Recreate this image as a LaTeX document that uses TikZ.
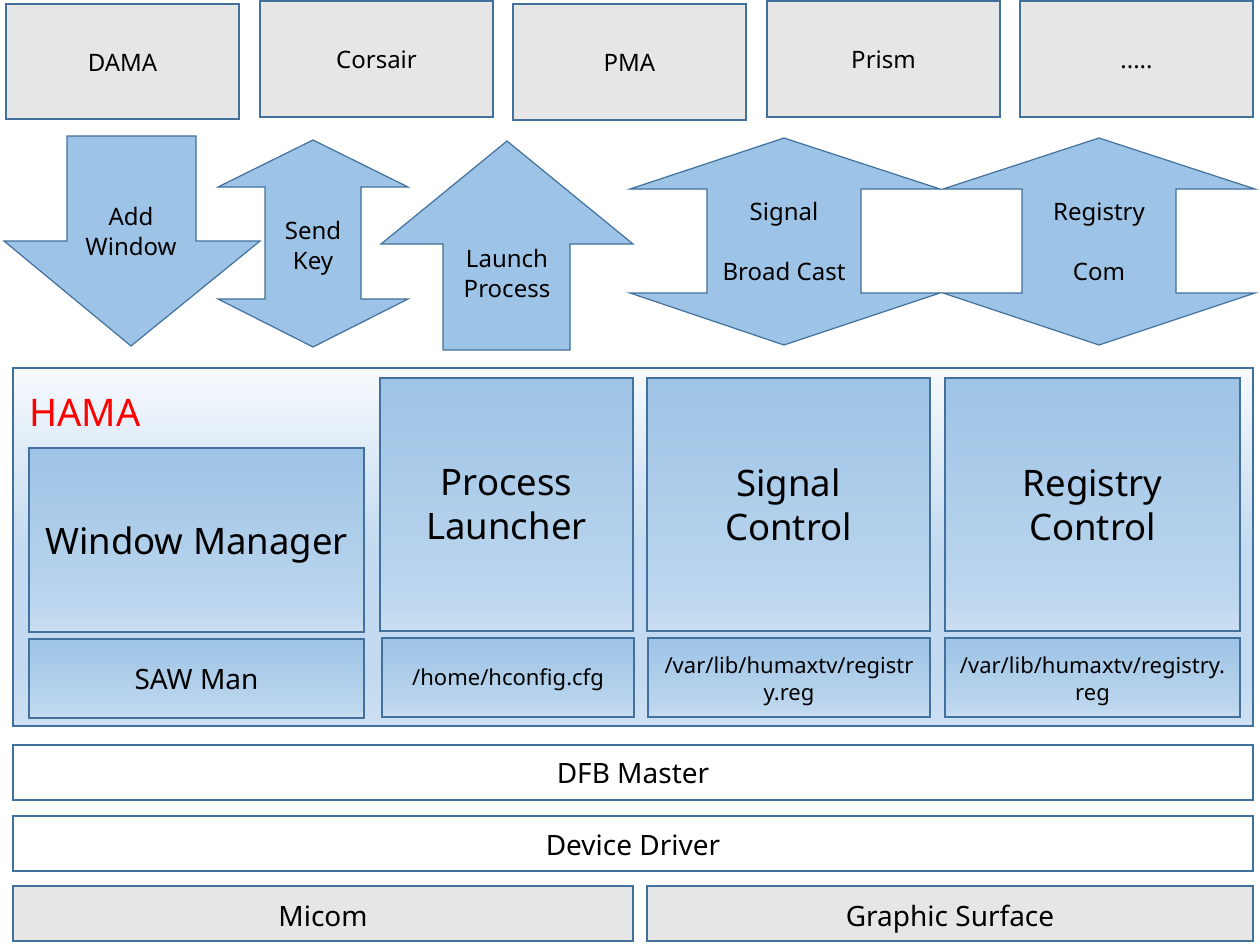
\documentclass[tikz,border=0pt]{standalone}
\usepackage{fontspec}
\setmainfont{Noto Sans}
\definecolor{bline}{HTML}{41719C}
\definecolor{afill}{HTML}{9DC3E6}
\definecolor{gfill}{HTML}{E7E6E6}
\definecolor{itop}{HTML}{9DC3E6}
\definecolor{imid}{HTML}{BDD7EE}
\definecolor{ibot}{HTML}{CCDFF2}
\definecolor{htop}{HTML}{F7FAFD}
\definecolor{hmid}{HTML}{C3DAF0}
\definecolor{hbot}{HTML}{CFE0F2}
\definecolor{hamared}{HTML}{FF0000}
\pgfdeclareverticalshading{innerg}{100bp}{color(0bp)=(ibot); color(25bp)=(ibot); color(31bp)=(imid); color(75bp)=(itop); color(100bp)=(itop)}
\pgfdeclareverticalshading{hamag}{100bp}{color(0bp)=(hbot); color(25bp)=(hbot); color(32bp)=(hmid); color(50bp)=(hmid); color(75bp)=(htop); color(100bp)=(htop)}
\tikzset{
  graybox/.style={draw=bline, line width=1.5pt, fill=gfill},
  whitebox/.style={draw=bline, line width=1.5pt, fill=white},
  innerbox/.style={draw=bline, line width=1.5pt, shading=innerg},
  hamabox/.style={draw=bline, line width=1.5pt, shading=hamag},
  arrowshape/.style={draw=bline, line width=1.2pt, fill=afill, line join=miter},
  smalltxt/.style={font=\fontsize{24}{30}\selectfont, align=center, inner sep=0pt},
  bigtxt/.style={font=\fontsize{36.5}{44}\selectfont, align=center, inner sep=0pt},
  midtxt/.style={font=\fontsize{28}{30}\selectfont, align=center, inner sep=0pt},
  pathtxt/.style={font=\fontsize{22}{27}\selectfont, align=center, inner sep=0pt},
  oneline/.style={text height=0.714*#1, text depth=0pt},
}
\begin{document}
\begin{tikzpicture}[x=1pt,y=-1pt]
\useasboundingbox (0,0) rectangle (1260,950);
% top application boxes
\draw[graybox] (6,4) rectangle (239,119);
\node[smalltxt,oneline=24pt] (dama) at (122.5,63) {DAMA};
\draw[graybox] (260,1) rectangle (493,117);
\node[smalltxt,oneline=24pt] (corsair) at (376.5,60) {Corsair};
\draw[graybox] (513,4) rectangle (746,120);
\node[smalltxt,oneline=24pt] (pma) at (629.5,63) {PMA};
\draw[graybox] (767,1) rectangle (1000,117);
\node[smalltxt,oneline=24pt] (prism) at (883.5,60) {Prism};
\draw[graybox] (1020,1) rectangle (1253,117);
\node[smalltxt,oneline=24pt] (etc) at (1136.5,60) {.....};
% arrows
\draw[arrowshape] (67,136) -- (196,136) -- (196,241) -- (260,241) -- (131,346) -- (4,241) -- (67,241) -- cycle;
\node[smalltxt] (addwin) at (131,231) {Add\\Window};
\draw[arrowshape] (313,140) -- (408,187) -- (361,187) -- (361,299) -- (408,299) -- (313,347) -- (218,299) -- (265,299) -- (265,187) -- (218,187) -- cycle;
\node[smalltxt] (sendkey) at (313,248) {Send\\Key};
\draw[arrowshape] (507,141) -- (633,244) -- (570,244) -- (570,350) -- (443,350) -- (443,244) -- (381,244) -- cycle;
\node[smalltxt] (launch) at (507,273) {Launch\\Process};
\draw[arrowshape] (784,138) -- (940,189) -- (861,189) -- (861,293) -- (940,293) -- (784,345) -- (630,293) -- (707,293) -- (707,189) -- (630,189) -- cycle;
\node[smalltxt,oneline=24pt] (sig1) at (784,212) {Signal};
\node[smalltxt,oneline=24pt] (sig2) at (784,272) {Broad Cast};
\draw[arrowshape] (1099,138) -- (1255,189) -- (1176,189) -- (1176,293) -- (1255,293) -- (1099,345) -- (943,293) -- (1022,293) -- (1022,189) -- (943,189) -- cycle;
\node[smalltxt,oneline=24pt] (reg1) at (1099,212) {Registry};
\node[smalltxt,oneline=24pt] (reg2) at (1099,272) {Com};
% HAMA
\draw[hamabox] (13,368) rectangle (1253,726);
\node[font=\fontsize{38}{44}\selectfont, text=hamared, anchor=west, inner sep=0pt, oneline=38pt] (hama) at (29,413) {HAMA};
\draw[innerbox] (29,448) rectangle (364,632);
\node[bigtxt,oneline=36.5pt] (wm) at (196.5,541) {Window Manager};
\draw[innerbox] (29,639) rectangle (364,718);
\node[midtxt,oneline=28pt] (saw) at (196.5,679) {SAW Man};
\draw[innerbox] (380,378) rectangle (633,631);
\node[bigtxt] (pl) at (506.5,505) {Process\\Launcher};
\draw[innerbox] (382,638) rectangle (634,717);
\node[pathtxt,oneline=22pt] (hcfg) at (508,678) {/home/hconfig.cfg};
\draw[innerbox] (647,378) rectangle (930,631);
\node[bigtxt] (sc) at (788.5,505) {Signal\\Control};
\draw[innerbox] (648,638) rectangle (930,717);
\node[pathtxt] (sreg) at (789,681) {/var/lib/humaxtv/registr\\y.reg};
\draw[innerbox] (945,378) rectangle (1240,631);
\node[bigtxt] (rc) at (1092.5,505) {Registry\\Control};
\draw[innerbox] (945,638) rectangle (1240,717);
\node[pathtxt] (rreg) at (1092.5,681) {/var/lib/humaxtv/registry.\\reg};
% lower layers
\draw[whitebox] (13,745) rectangle (1253,800);
\node[midtxt,oneline=28pt] (dfb) at (633,773) {DFB Master};
\draw[whitebox] (13,816) rectangle (1253,871);
\node[midtxt,oneline=28pt] (dd) at (633,845) {Device Driver};
\draw[graybox] (13,886) rectangle (633,941);
\node[midtxt,oneline=28pt] (micom) at (323,916) {Micom};
\draw[graybox] (647,886) rectangle (1253,941);
\node[midtxt,oneline=28pt] (gs) at (950,916) {Graphic Surface};
\end{tikzpicture}
\end{document}
